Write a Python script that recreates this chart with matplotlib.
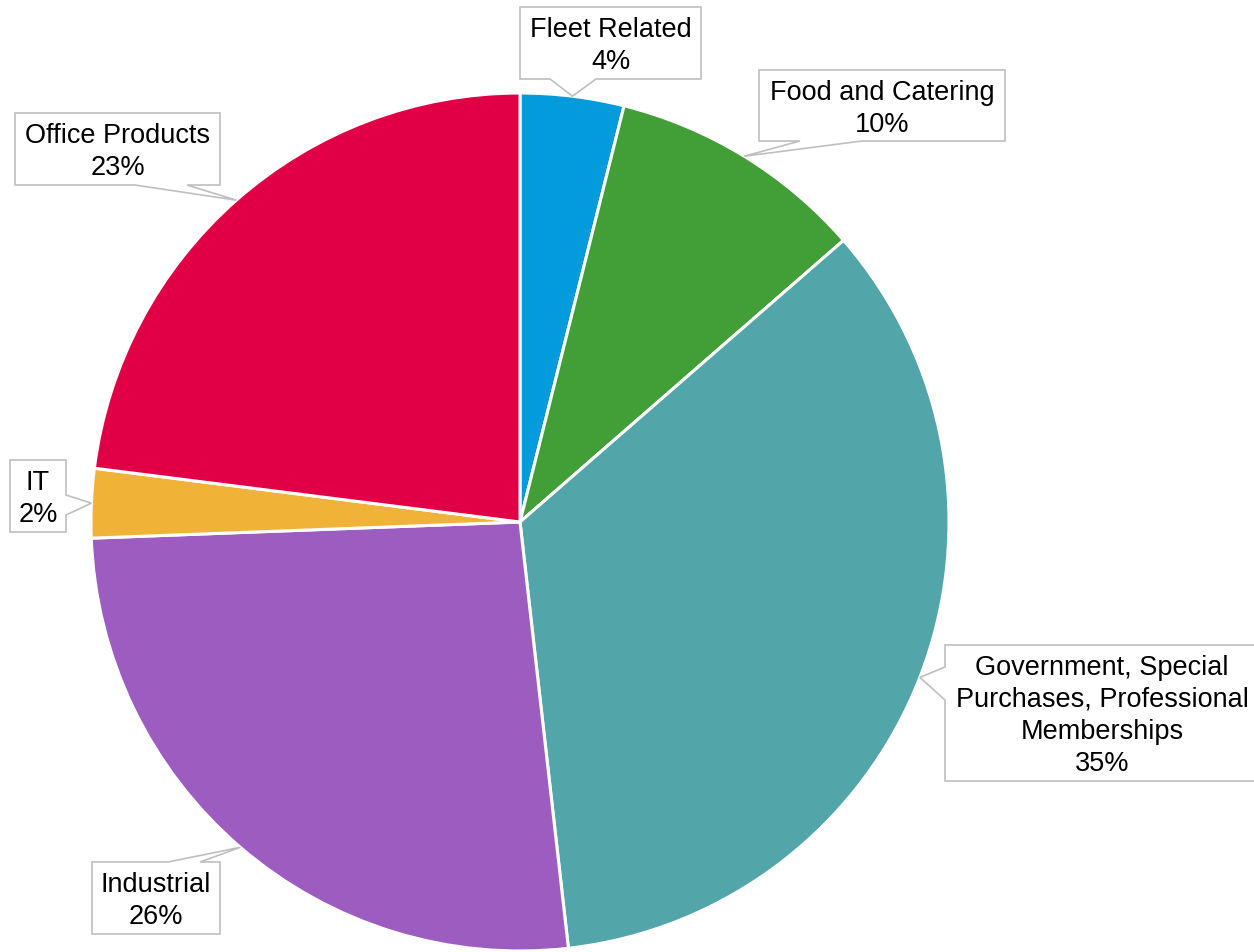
import numpy as np
import matplotlib
matplotlib.use("Agg")
import matplotlib.pyplot as plt
from matplotlib.patches import Polygon

plt.rcParams['font.family'] = ['Liberation Sans', 'DejaVu Sans']

# data (clockwise from 12 o'clock)
categories = ['Fleet Related', 'Food and Catering',
              'Government, Special\nPurchases, Professional\nMemberships',
              'Industrial', 'IT', 'Office Products']
values = [3.9, 9.7, 34.6, 26.2, 2.6, 23.0]
pct_labels = ['4%', '10%', '35%', '26%', '2%', '23%']
colors = ['#039BDB', '#429E36', '#52A5A8', '#9D5CBF', '#F0B237', '#E10046']

W, H = 1254, 952
fig = plt.figure(figsize=(W / 100, H / 100), dpi=100)
ax = fig.add_axes([0, 0, 1, 1])

cx, cy, R = 520, 522, 429
wedges, _ = ax.pie(values, colors=colors, startangle=90, counterclock=False,
                   center=(cx, H - cy), radius=R,
                   wedgeprops=dict(edgecolor='white', linewidth=2.2))
ax.set_xlim(0, W)
ax.set_ylim(0, H)
ax.set_aspect('equal')
ax.axis('off')

# callout boxes: (x0, y0, x1, y1) in pixels from top-left, side of pointer, base span
boxes = [
    ((520, 7, 701, 79), 'bottom', (550, 596)),
    ((759, 70, 1005, 141), 'bottom', (800, 862)),
    ((945, 645, 1262, 781), 'left', (667, 700)),
    ((92, 862, 220, 934), 'top', (168, 200)),
    ((10, 460, 66, 532), 'right', (495, 515)),
    ((15, 113, 220, 185), 'bottom', (135, 187)),
]

def P(x, y):
    return (x, H - y)

for w, lab, pct, (box, side, base) in zip(wedges, categories, pct_labels, boxes):
    mid = np.deg2rad((w.theta1 + w.theta2) / 2)
    tip = (cx + R * np.cos(mid), cy - R * np.sin(mid))
    x0, y0, x1, y1 = box
    a, b = base
    if side == 'bottom':
        pts = [(x0, y0), (x1, y0), (x1, y1), (b, y1), tip, (a, y1), (x0, y1)]
    elif side == 'top':
        pts = [(x0, y0), (a, y0), tip, (b, y0), (x1, y0), (x1, y1), (x0, y1)]
    elif side == 'left':
        pts = [(x0, y0), (x1, y0), (x1, y1), (x0, y1), (x0, b), tip, (x0, a)]
    else:
        pts = [(x0, y0), (x1, y0), (x1, a), tip, (x1, b), (x1, y1), (x0, y1)]
    ax.add_patch(Polygon([P(*p) for p in pts], closed=True, facecolor='white',
                         edgecolor='#BFBFBF', linewidth=1.2, zorder=3,
                         clip_on=False))
    tx = (x0 + x1) / 2 if side != 'left' else 1102
    ty = (y0 + y1) / 2 + 3
    ax.text(*P(tx, ty), lab + '\n' + pct, ha='center', va='center',
            fontsize=19.5, linespacing=1.3, color='black', zorder=4)

fig.savefig('out.png', dpi=100)
